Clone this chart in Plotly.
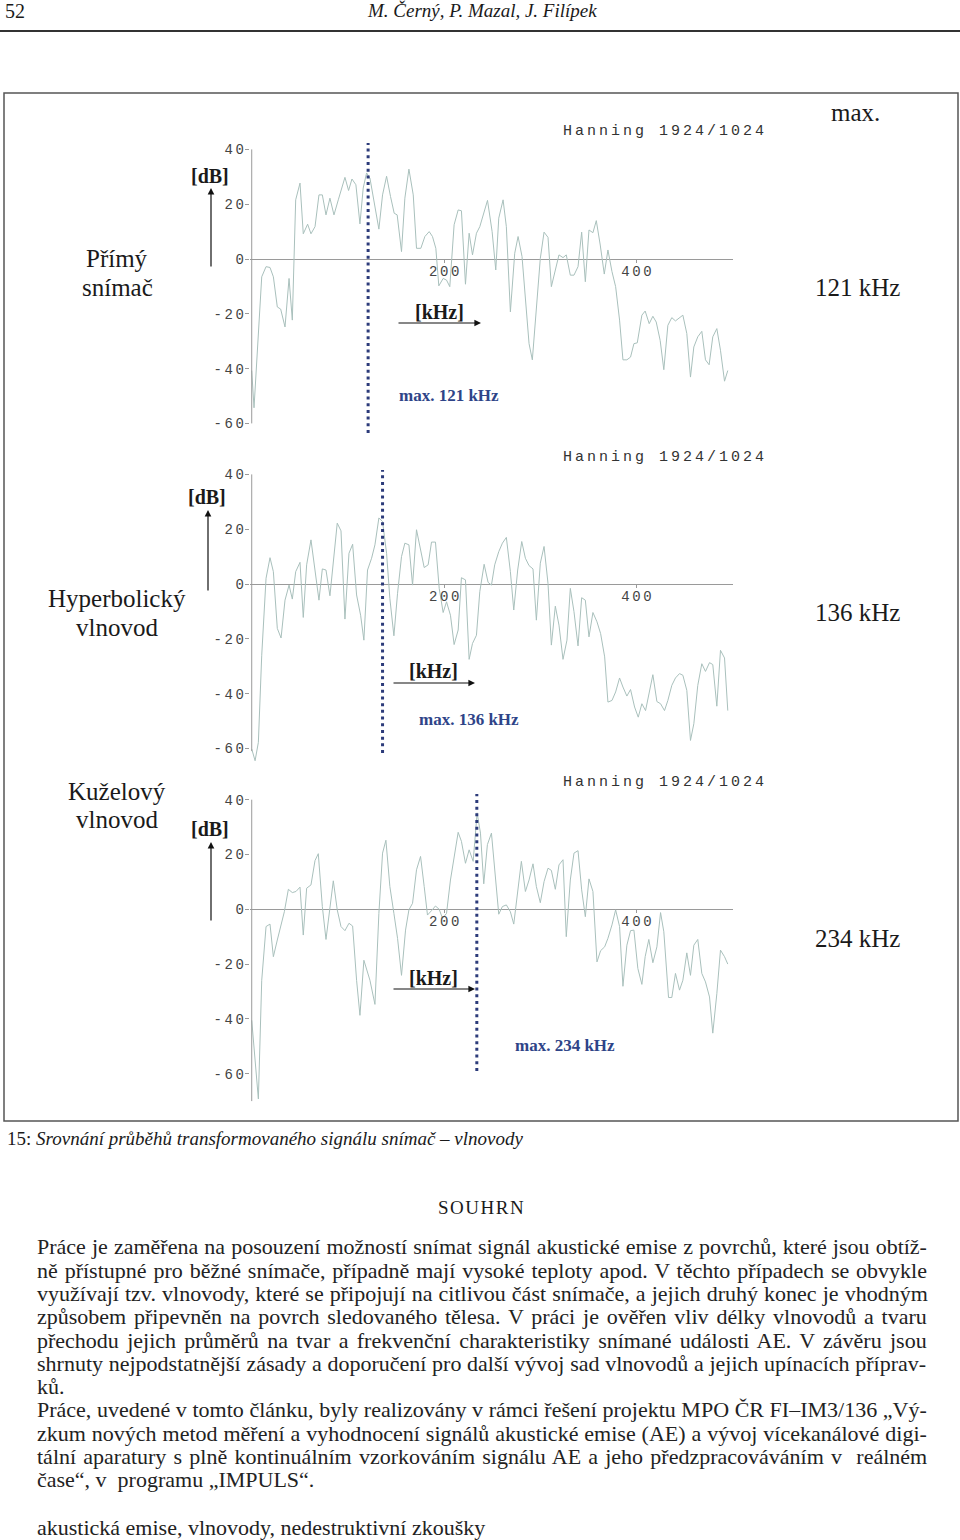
import plotly.graph_objects as go

W, H = 960, 1540

# ---------------- data ----------------
freq_direct = [0.0, 2.4, 10.4, 14.9, 19.0, 22.5, 26.6, 30.1, 34.6, 38.8, 42.2, 45.7, 50.2, 53.6, 58.1, 61.6,
               65.8, 69.9, 73.4, 77.2, 81.3, 85.5, 90.0, 93.4, 96.9, 100.7, 104.2, 108.3, 112.5, 115.9, 119.4,
               122.9, 128.1, 132.2, 136.0, 140.2, 144.3, 148.1, 151.2, 155.7, 159.2, 163.4, 167.9, 171.3, 175.8,
               180.0, 184.5, 187.9, 191.4, 194.5, 199.0, 202.5, 205.9, 210.4, 214.6, 218.0, 222.2, 226.0, 229.5,
               233.6, 237.1, 241.2, 245.1, 249.9, 253.7, 256.8, 261.3, 264.7, 268.9, 273.4, 276.9, 281.0, 288.3,
               291.7, 295.9, 300.0, 303.9, 308.0, 311.5, 315.3, 319.4, 323.6, 327.0, 331.2, 335.0, 339.2, 343.0,
               346.8, 350.6, 354.7, 358.2, 362.3, 366.5, 370.3, 374.5, 378.3, 382.4, 385.9, 390.0, 393.8, 397.3,
               400.8, 405.6, 409.0, 413.2, 417.0, 420.5, 424.6, 428.4, 432.6, 436.7, 440.5, 444.0, 448.2, 452.3,
               456.1, 459.6, 463.7, 467.9, 471.7, 475.5, 479.3, 483.5, 487.3, 491.5, 494.9]
db_direct = [-40.7, -54.3, -6.5, -2.8, -3.1, -6.5, -17.5, -18.3, -24.8, -7.1, -22.3, 21.6, 27.7, 9.2, 12.7, 9.2,
             11.8, 23.4, 23.4, 16.1, 22.2, 16.1, 21.6, 25.9, 29.8, 25.0, 29.2, 27.1, 12.8, 25.9, 31.4,
             29.5, 19.8, 10.9, 23.4, 30.2, 22.8, 16.7, 16.1, 2.7, 22.2, 32.8, 23.4, 3.9, 3.9,
             8.2, 10.0, 8.2, 3.9, -9.8, -7.1, -7.7, -10.1, 12.5, 17.9, 17.6, -9.2, 9.4, 1.5,
             9.4, 11.8, 16.7, 21.4, 10.0, -4.0, 14.9, 21.6, 11.8, -19.3, 2.1, 8.2, 0.9, -30.9,
             -36.8, -17.5, 0.2, 9.8, 7.9, -10.1, -4.6, 1.5, 0.5, 1.5, -5.9, -5.9, -2.8, 9.8,
             -8.3, 10.6, 9.6, 14.0, 5.1, -5.5, 3.3, -4.6, -10.1, -22.3, -36.8, -36.8, -35.8, -30.9,
             -30.6, -20.5, -19.0, -23.6, -20.9, -23.0, -29.7, -40.4, -24.2, -21.4, -22.6, -21.7, -20.5, -27.2,
             -43.1, -32.1, -28.4, -26.4, -36.8, -38.6, -28.4, -25.4, -33.3, -44.6, -40.7]

freq_hyper = [0.0, 3.5, 6.9, 10.4, 14.9, 19.0, 22.5, 26.6, 30.5, 34.6, 38.8, 42.2, 45.7, 50.2, 53.6, 57.1,
              61.6, 65.8, 69.9, 73.4, 77.2, 81.3, 84.8, 88.9, 92.8, 96.9, 101.1, 104.9, 109.0, 113.2, 116.6,
              120.4, 124.6, 128.1, 132.2, 136.0, 140.2, 143.6, 147.8, 151.6, 155.7, 159.2, 163.4, 167.2, 171.3,
              175.5, 179.3, 183.4, 186.9, 191.0, 194.9, 199.0, 202.5, 206.6, 210.4, 214.6, 218.0, 222.2, 226.0,
              229.5, 233.6, 237.1, 241.6, 245.7, 249.2, 252.6, 256.8, 260.6, 264.7, 268.9, 272.4, 276.5, 280.7,
              284.5, 288.3, 292.4, 295.9, 300.0, 303.9, 308.0, 311.5, 315.6, 319.4, 323.6, 327.7, 331.2, 335.0,
              339.2, 343.0, 346.8, 350.6, 354.7, 358.9, 362.7, 366.9, 370.3, 374.5, 378.3, 382.4, 385.9, 390.0,
              393.8, 398.0, 401.8, 405.6, 409.4, 413.6, 417.0, 421.2, 425.0, 429.1, 432.6, 436.7, 440.5, 444.7,
              448.2, 452.3, 456.1, 459.6, 463.7, 467.9, 471.7, 475.9, 479.3, 483.5, 487.3, 491.5, 494.9]
db_hyper = [-60.2, -64.5, -57.8, -26.0, 2.1, 9.6, 4.5, -16.2, -19.7, -5.9, -0.4, -5.5, 4.5, 7.9, -12.2, 7.0,
            16.1, 5.7, -5.9, 5.5, 5.1, -4.3, 7.0, 22.2, 19.4, -12.8, 11.2, 14.5, -4.0, -11.4, -20.5,
            5.1, 9.4, 14.3, 24.1, 22.8, 11.2, -5.3, -18.9, -3.4, 10.0, 14.9, 14.3, -0.4, 19.8,
            12.5, 6.0, 7.0, 15.3, 15.3, -1.6, -10.4, -6.5, -11.4, -22.1, -16.8, 2.3, 1.5, -27.5,
            -21.7, -18.7, -2.8, 7.2, 0.6, -0.4, 7.0, 11.8, 14.9, 17.0, 4.5, -9.5, 5.1, 15.5,
            9.4, 6.7, 5.5, -13.2, 7.6, 13.7, 0.2, -22.3, -8.1, -15.0, -27.5, -20.5, -1.6, -10.1,
            -22.6, -5.0, -5.9, -19.3, -10.4, -13.8, -18.1, -26.6, -43.1, -42.5, -39.4, -34.3, -37.6, -40.9,
            -38.5, -44.9, -48.6, -43.7, -46.2, -38.8, -33.1, -42.9, -43.7, -46.2, -42.5, -37.0, -34.3, -32.7,
            -33.3, -38.8, -57.1, -51.0, -37.0, -29.1, -31.9, -28.7, -29.4, -44.6, -24.2, -27.0, -46.2]

freq_cone = [0.0, 3.5, 6.9, 10.4, 14.9, 19.0, 22.5, 26.6, 30.1, 33.9, 38.1, 42.2, 46.0, 50.2, 53.6, 57.1,
             61.6, 65.8, 69.2, 73.4, 77.2, 81.3, 84.8, 88.9, 92.8, 96.9, 101.1, 104.9, 109.0, 112.5, 116.6,
             122.9, 128.1, 132.2, 136.0, 139.5, 143.6, 147.8, 151.6, 155.7, 159.9, 163.4, 167.2, 171.3, 175.5,
             179.3, 182.7, 186.9, 191.0, 194.9, 198.3, 202.5, 206.6, 214.6, 218.0, 222.2, 226.0, 230.2, 234.3,
             237.8, 241.2, 245.0, 249.2, 256.8, 260.6, 264.7, 268.9, 272.4, 276.5, 280.3, 284.5, 288.3, 292.4,
             295.9, 300.0, 303.9, 308.0, 311.5, 315.6, 319.4, 323.6, 327.0, 331.2, 335.0, 339.2, 343.0, 346.8,
             350.6, 354.7, 358.9, 362.7, 366.9, 370.3, 374.5, 378.3, 382.4, 385.9, 390.0, 393.8, 397.3, 401.4,
             405.6, 409.0, 412.8, 417.0, 421.2, 425.0, 428.4, 433.3, 436.7, 440.5, 444.7, 448.2, 452.3, 456.1,
             459.6, 463.7, 467.9, 471.7, 475.9, 479.3, 483.5, 487.3, 491.5, 494.9]
db_cone = [-40.5, -55.2, -69.2, -25.9, -6.3, -5.4, -17.3, -11.2, -5.7, -0.9, 7.3, 6.1, 6.5, 8.1, -9.4, 7.7,
           8.9, 17.8, 20.3, 1.0, -11.0, 0.4, 10.4, -0.2, -6.3, -7.8, -5.1, -6.1, -25.9, -38.7, -18.6,
           -25.9, -34.7, -1.5, 20.5, 25.2, 8.3, -1.5, -10.6, -24.1, -7.6, -0.2, 2.2, 14.4, 19.3,
           8.3, -2.1, -0.5, 1.2, 0.0, -3.3, -1.5, 10.7, 28.1, 24.8, 16.8, 21.7, 17.5, 35.2,
           27.8, 9.3, 23.6, 27.8, -1.8, 1.0, 1.6, -0.9, -5.4, 7.1, 17.5, 6.5, 10.7, 16.6,
           8.3, 2.4, 10.1, 15.0, 14.2, 7.3, 16.2, 18.1, -10.0, 10.7, 20.5, 21.4, 7.1, -2.7,
           11.1, 6.5, -19.2, -15.1, -13.7, -10.6, -5.7, -0.2, -6.3, -28.1, -13.1, -7.8, -7.6, -21.6,
           -27.4, -17.3, -11.0, -19.5, -13.7, -1.2, -8.2, -32.2, -32.2, -23.4, -29.5, -25.9, -15.9, -24.1,
           -13.1, -11.0, -23.4, -26.5, -32.0, -45.2, -30.8, -14.9, -17.3, -20.0]

max_khz = [121, 136, 234]
max_labels = ["121 kHz", "136 kHz", "234 kHz"]
panel_names = [["Přímý", "snímač"], ["Hyperbolický", "vlnovod"], ["Kuželový", "vlnovod"]]
y_tickvals = [-60, -40, -20, 0, 20, 40]
y_ticktext = ["-60", "-40", "-20", "0", "20", "40"]
x_tickvals = [200, 400]
x_ticktext = ["200", "400"]
window_label = "Hanning 1924/1024"

header_page = "52"
header_authors = "M. Černý, P. Mazal, J. Filípek"
caption_num = "15:"
caption_text = "Srovnání průběhů transformovaného signálu snímač – vlnovody"
summary_title = "SOUHRN"
summary_lines = [
    "Práce je zaměřena na posouzení možností snímat signál akustické emise z povrchů, které jsou obtíž-",
    "ně přístupné pro běžné snímače, případně mají vysoké teploty apod. V těchto případech se obvykle",
    "využívají tzv. vlnovody, které se připojují na citlivou část snímače, a jejich druhý konec je vhodným",
    "způsobem připevněn na povrch sledovaného tělesa. V práci je ověřen vliv délky vlnovodů a tvaru",
    "přechodu jejich průměrů na tvar a frekvenční charakteristiky snímané události AE. V závěru jsou",
    "shrnuty nejpodstatnější zásady a doporučení pro další vývoj sad vlnovodů a jejich upínacích příprav-",
    "ků.",
    "Práce, uvedené v tomto článku, byly realizovány v rámci řešení projektu MPO ČR FI–IM3/136 „Vý-",
    "zkum nových metod měření a vyhodnocení signálů akustické emise (AE) a vývoj vícekanálové digi-",
    "tální aparatury s plně kontinuálním vzorkováním signálu AE a jeho předzpracováváním v  reálném",
    "čase“, v  programu „IMPULS“.",
]
keywords = "akustická emise, vlnovody, nedestruktivní zkoušky"

series = [(freq_direct, db_direct), (freq_hyper, db_hyper), (freq_cone, db_cone)]

# ---------------- styling / geometry ----------------
SERIF = "Liberation Serif, Times New Roman, serif"
MONO = "Liberation Mono, Courier New, monospace"
TRACE_COLOR = "#a9c0bc"
DOT_COLOR = "#2c3b7a"
AXIS_COLOR = "#9a9a9a"
TEXT = "#1a1a1a"
BODY_SIZE = 22
# extra word spacing (px) used to justify each abstract line (None = left aligned, last lines)
word_spacing = [0.6, 1.4, 0.6, 2.3, 2.8, 0.2, None, 0.1, 0.45, 1.7, None]

def px(x):
    return x / W

def py(y):
    return 1 - y / H

def spaced(t, ls):
    # letter spacing on all but the last glyph, so right alignment is kept
    if len(t) < 2:
        return t
    return '<span style="letter-spacing:%spx">%s</span>%s' % (ls, t[:-1], t[-1])

PXPERDB = 2.74
X_LEFT, X_RIGHT = 249.8, 732.7          # pixels for x range [-2, 500]
panels_geo = [
    dict(zero=259.0, lo=-65, hi=44, axis_lo=-60, dot=(-63.5, 42.3), name_y=(258, 287), right_y=287,
         db_lbl=(210, 176), db_arrow=(211, 268, 188), khz_lbl=(439, 312), khz_arrow=(397, 481, 323),
         max_lbl=(397, 396), hann_y=131),
    dict(zero=584.0, lo=-66, hi=44, axis_lo=-61, dot=(-61.7, 41.6), name_y=(598, 627), right_y=613,
         db_lbl=(207, 497), db_arrow=(208, 592, 510), khz_lbl=(433, 671), khz_arrow=(392, 475, 683),
         max_lbl=(417, 720), hann_y=457),
    dict(zero=909.3, lo=-71, hi=44, axis_lo=-70, dot=(-59.0, 42.1), name_y=(791, 820), right_y=938,
         db_lbl=(210, 829), db_arrow=(211, 922, 842), khz_lbl=(433, 978), khz_arrow=(392, 475, 989),
         max_lbl=(513, 1045), hann_y=782),
]

fig = go.Figure()
annotations = []
shapes = []

def add_text(x, y, s, size, family=SERIF, color=TEXT, xanchor="center"):
    annotations.append(dict(x=px(x), y=py(y), xref="paper", yref="paper", text=s, showarrow=False,
                            font=dict(family=family, size=size, color=color),
                            xanchor=xanchor, yanchor="middle"))

def add_arrow(hx, hy, tx, ty):
    annotations.append(dict(x=px(hx), y=py(hy), xref="paper", yref="paper", text="", showarrow=True,
                            ax=tx - hx, ay=ty - hy, axref="pixel", ayref="pixel",
                            arrowhead=2, arrowsize=1.1, arrowwidth=1.2, arrowcolor="#111"))

layout_axes = {}
for i, (geo, (fx, fy)) in enumerate(zip(panels_geo, series)):
    n = "" if i == 0 else str(i + 1)
    top = geo["zero"] - geo["hi"] * PXPERDB
    bot = geo["zero"] - geo["lo"] * PXPERDB
    fig.add_trace(go.Scatter(x=fx, y=fy, mode="lines", line=dict(color=TRACE_COLOR, width=1),
                             xaxis="x" + n, yaxis="y" + n, hoverinfo="skip", showlegend=False))
    layout_axes["xaxis" + n] = dict(
        domain=[px(X_LEFT), px(X_RIGHT)], range=[-2, 500], anchor="free", position=py(geo["zero"]),
        showgrid=False, zeroline=False, showline=False, ticks="outside", ticklen=3,
        tickcolor=AXIS_COLOR, tickvals=x_tickvals, ticklabelstandoff=-4,
        ticktext=[spaced(t, 2.6) for t in x_ticktext],
        tickfont=dict(family=MONO, size=14, color="#444"), fixedrange=True)
    layout_axes["yaxis" + n] = dict(
        domain=[py(bot), py(top)], range=[geo["lo"], geo["hi"]], anchor="x" + n,
        showgrid=False, zeroline=True, zerolinecolor=AXIS_COLOR, zerolinewidth=1, showline=False,
        ticks="outside", ticklen=4, tickcolor=AXIS_COLOR, tickvals=y_tickvals, ticklabelstandoff=-2,
        ticktext=[spaced(t, 2.6) for t in y_ticktext],
        tickfont=dict(family=MONO, size=14, color="#444"), fixedrange=True)
    # y axis line
    shapes.append(dict(type="line", xref="x" + n, yref="y" + n, x0=0, x1=0, y0=geo["axis_lo"], y1=40,
                       line=dict(color=AXIS_COLOR, width=1)))
    # dotted marker of the maximum
    shapes.append(dict(type="line", xref="x" + n, yref="y" + n, x0=max_khz[i], x1=max_khz[i],
                       y0=geo["dot"][0], y1=geo["dot"][1],
                       line=dict(color=DOT_COLOR, width=3, dash="3px,3.7px")))
    # texts
    add_text(117, geo["name_y"][0], panel_names[i][0], 25)
    add_text(117, geo["name_y"][1], panel_names[i][1], 25)
    add_text(857, geo["right_y"], max_labels[i], 25)
    add_text(geo["db_lbl"][0], geo["db_lbl"][1], "<b>[dB]</b>", 20)
    add_arrow(geo["db_arrow"][0], geo["db_arrow"][2], geo["db_arrow"][0], geo["db_arrow"][1])
    add_text(geo["khz_lbl"][0], geo["khz_lbl"][1], "<b>[kHz]</b>", 20)
    add_arrow(geo["khz_arrow"][1], geo["khz_arrow"][2], geo["khz_arrow"][0], geo["khz_arrow"][2])
    add_text(geo["max_lbl"][0], geo["max_lbl"][1], "<b>max. %s</b>" % max_labels[i], 17,
             color="#2e4488", xanchor="left")
    add_text(663, geo["hann_y"], spaced(window_label, 3), 15, family=MONO, color="#333")

add_text(855, 112, "max.", 25)

# page header, frame, caption, abstract
add_text(3, 11, header_page, 20, xanchor="left")
add_text(482, 11, "<i>%s</i>" % header_authors, 19)
shapes.append(dict(type="line", xref="paper", yref="paper", x0=0, x1=1, y0=py(31), y1=py(31),
                   line=dict(color="#333", width=2)))
shapes.append(dict(type="rect", xref="paper", yref="paper", x0=px(4), x1=px(958), y0=py(1121), y1=py(93),
                   line=dict(color="#555", width=1.5)))
add_text(5, 1138, "%s <i>%s</i>" % (caption_num, caption_text), 19, xanchor="left")
add_text(481, 1207, spaced(summary_title, 1.5), 19)
line_y = [1246.7, 1270, 1293.3, 1316.5, 1340, 1363, 1386.3, 1409.7, 1433, 1456.3, 1479.7]
for yy, s, ws in zip(line_y, summary_lines, word_spacing):
    txt = s if ws is None else '<span style="word-spacing:%spx">%s</span>' % (ws, s)
    add_text(35, yy, txt, BODY_SIZE, color="#222", xanchor="left")
add_text(35, 1527, keywords, BODY_SIZE, color="#222", xanchor="left")

fig.update_layout(
    width=W, height=H, margin=dict(l=0, r=0, t=0, b=0),
    paper_bgcolor="white", plot_bgcolor="rgba(0,0,0,0)", showlegend=False,
    annotations=annotations, shapes=shapes, **layout_axes)

fig.write_html("out.html", post_script="document.body.style.margin='0';",
               config={"displayModeBar": False})
